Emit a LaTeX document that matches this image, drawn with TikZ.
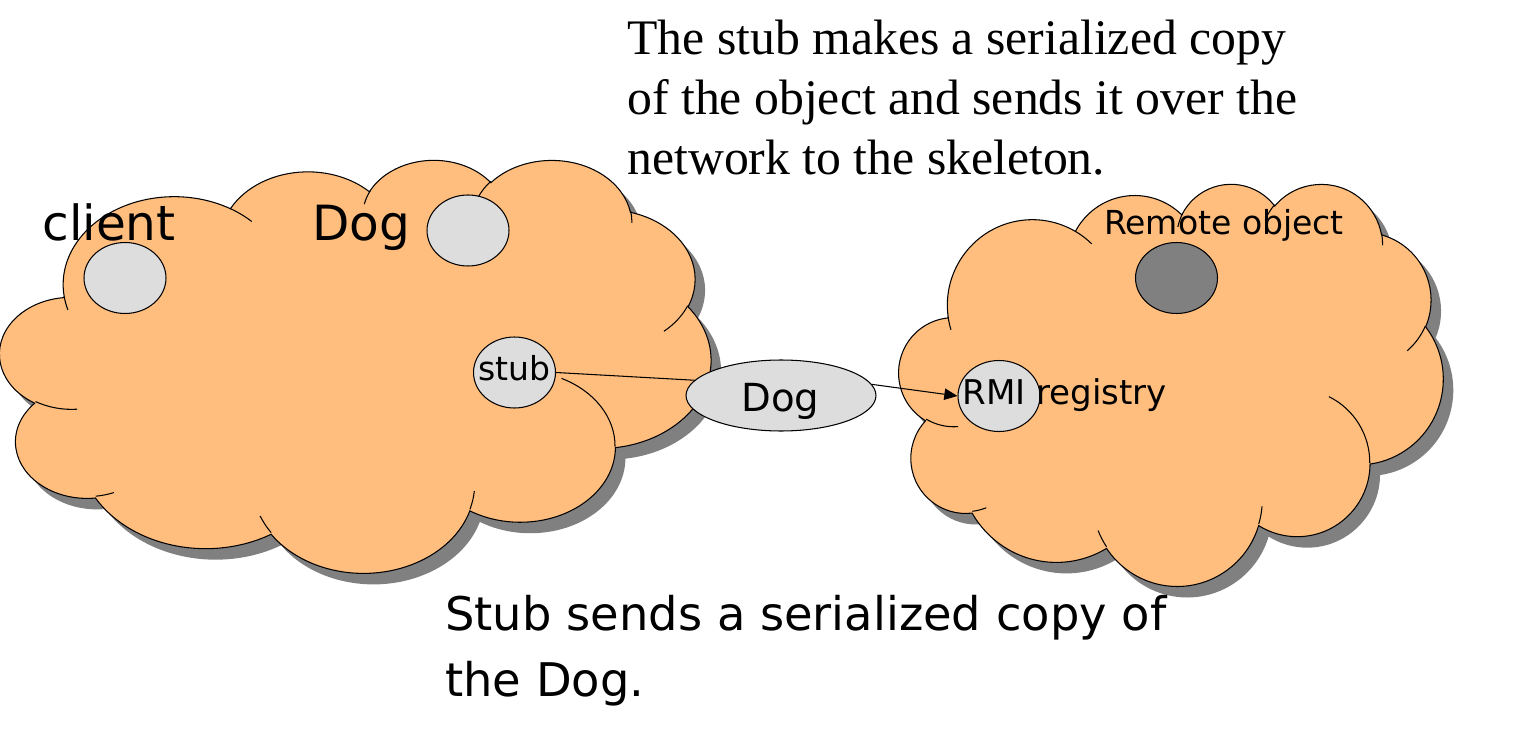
\documentclass[tikz,border=0pt]{standalone}
\usepackage{fontspec}
\setmainfont{DejaVu Sans}
\newfontfamily\notefont{Liberation Serif}
\usetikzlibrary{arrows.meta,shapes.geometric}

\definecolor{cloudfill}{RGB}{255,190,125}
\definecolor{cloudshade}{RGB}{128,128,128}
\definecolor{objfill}{RGB}{221,221,221}
\definecolor{remotefill}{RGB}{128,128,128}

% cloud outline in a 432 x 432 box (angles as seen, turned into ellipse parameters)
\newcommand\cloudoutline{(39,143.7)
  \foreach \w/\h/\s/\d [evaluate={\s as \ta using atan2(\w*sin(\s),\h*cos(\s))},
      evaluate={\d as \tb using mod(atan2(\w*sin(\s+\d),\h*cos(\s+\d))-\ta+720,360)}]
    in {67.53/91.90/-190.4875/123.7805, 53.33/72.67/-144.1024/89.9452,
        43.65/59.45/-145.8079/99.7230, 48.57/65.95/-130.9861/117.2417,
        53.33/72.73/-78.7089/109.0269, 67.75/92.20/-46.2673/130.2690,
        57.85/78.67/0.6250/114.0333, 67.52/92.15/22.4516/115.1726,
        77.20/105.43/66.2426/75.7110, 43.60/59.18/-274.9421/146.7356,
        43.45/59.45/-246.8285/152.5189}
    {arc[x radius=\w, y radius=\h, start angle=\ta, delta angle=\tb]} -- cycle}

\newcommand\cloudcurls{
  \foreach \x/\y/\w/\h/\s/\d [evaluate={\s as \ta using atan2(\w*sin(\s),\h*cos(\s))},
      evaluate={\d as \tb using mod(atan2(\w*sin(\s+\d),\h*cos(\s+\d))-\ta+720,360)}]
    in {46.93/261.77/43.45/59.45/86.7420/26.4295, 69.28/348.99/43.60/59.18/73.6105/11.4475,
        164.78/390.90/67.52/92.15/137.6242/14.0811, 288.27/347.51/67.52/92.15/6.4533/15.9984,
        341.29/229.54/57.85/78.67/-70.2924/70.9174, 417.98/153.54/53.33/72.73/30.3180/27.7515,
        383.24/54.26/48.57/65.95/-13.7443/14.8589, 290.78/39.52/48.57/65.95/-149.1815/18.1954,
        221.41/47.20/43.65/59.45/-163.4943/17.6864, 140.00/51.92/67.53/91.90/-66.7070/12.3194,
        41.27/157.89/67.53/91.90/157.6544/11.8582}
    {(\x,\y) arc[x radius=\w, y radius=\h, start angle=\ta, delta angle=\tb]}}

% #1,#2 top left corner, #3,#4 units of the 432 box
\newcommand\drawcloud[4]{
  \begin{scope}[shift={(#1+10,#2+11)},x=#3,y=-#4]
    \fill[cloudshade] \cloudoutline;
  \end{scope}
  \begin{scope}[shift={(#1,#2)},x=#3,y=-#4]
    \path[cloudline] \cloudoutline;
    \path[cloudcurl] \cloudcurls;
  \end{scope}}

\begin{document}
\begin{tikzpicture}[x=0.02cm,y=-0.02cm,
    cloudline/.style={draw=black,fill=cloudfill,line width=0.6pt},
    cloudcurl/.style={draw=black,line width=0.6pt},
    obj/.style={ellipse,draw=black,fill=objfill,line width=0.6pt,inner sep=0pt,
                minimum width=1.64cm,minimum height=1.42cm},
    bigsans/.style={inner sep=0pt,font=\fontsize{27.6}{33}\selectfont},
    smallsans/.style={inner sep=0pt,font=\fontsize{18.8}{22}\selectfont},
    msgsans/.style={inner sep=0pt,font=\fontsize{22}{26}\selectfont},
    caption/.style={inner sep=0pt,anchor=base west,font=\fontsize{26.4}{32}\selectfont},
    note/.style={inner sep=0pt,anchor=base west,font=\notefont\fontsize{28.3}{34}\selectfont}]
  \useasboundingbox (0,0) rectangle (1513,746);

  % client side and server side
  \drawcloud{0}{159}{0.0329167cm}{0.0191204cm}
  \drawcloud{899}{183}{0.0251852cm}{0.0186111cm}

  \node[obj] (clientobj) at (125,278) {};
  \node[obj] (dogobj) at (468,230.5) {};
  \node[obj] (stub) at (514.5,372.5) {};
  \node[obj,minimum width=3.8cm] (dogmsg) at (781,395.5) {};
  \node[obj,fill=remotefill] (remoteobj) at (1176.5,278) {};
  \node[obj] (rmi) at (999,396) {};

  \node[bigsans,anchor=base] (clienttext) at (109,241) {client};
  \node[bigsans,anchor=base] (dogtext) at (361,241) {Dog};
  \node[smallsans,anchor=base] (stubtext) at (514.5,380) {stub};
  \node[msgsans,anchor=base] (dogmsgtext) at (780.5,411.5) {Dog};
  \node[smallsans,anchor=base] (remotetext) at (1224,235) {Remote object};
  \node[smallsans,anchor=base west,font=\fontsize{19.4}{22}\selectfont] (rmitext) at (962,404) {RMI registry};

  \draw[line width=0.6pt] (stub.east) -- (dogmsg.170);
  \draw[line width=0.6pt,-{Triangle[length=7.5pt,width=6.5pt]}] (dogmsg.7) -- (rmi.west);

  \node[note] (note1) at (627,55) {The stub makes a serialized copy};
  \node[note] (note2) at (627,115) {of the object and sends it over the};
  \node[note] (note3) at (627,175) {network to the skeleton.};

  \node[caption] (caption1) at (445,630) {Stub sends a serialized copy of};
  \node[caption] (caption2) at (445,696.5) {the Dog.};
\end{tikzpicture}
\end{document}
